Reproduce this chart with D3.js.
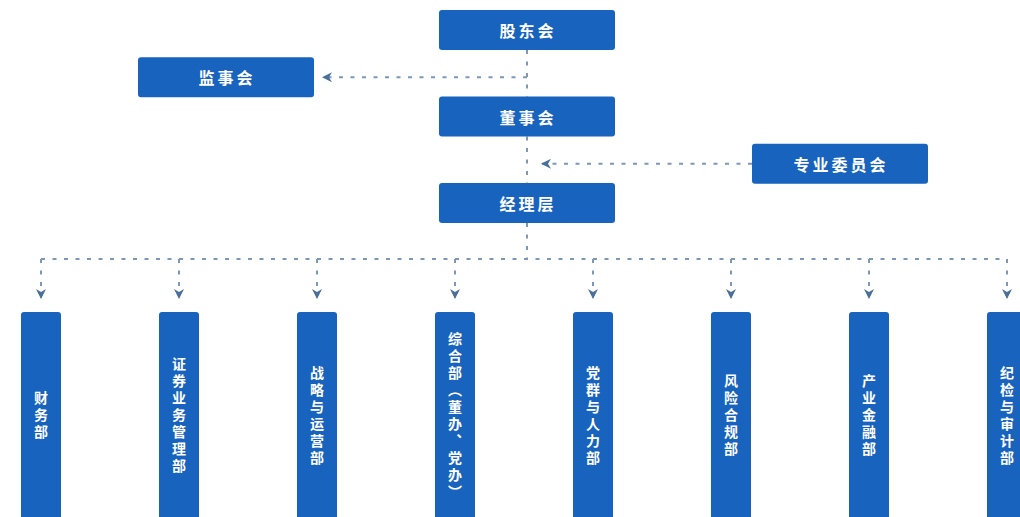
<!DOCTYPE html>
<html>
<head>
<meta charset="utf-8">
<script src="https://cdn.jsdelivr.net/npm/d3@7"></script>
<style>
  html, body { margin: 0; padding: 0; background: #fff; }
  svg { display: block; }
  text { font-family: "Noto Sans CJK SC", "Noto Sans", sans-serif; fill: #fff; font-weight: bold; }
</style>
</head>
<body>
<svg id="chart" width="1020" height="517"></svg>
<script>
// top governance chain (level, side): side -1 = left, 0 = trunk, 1 = right
const topNames = ['股东会', '监事会', '董事会', '专业委员会', '经理层'];
const topLevels = [0, 1, 2, 3, 4];
const topSides = [0, -1, 0, 1, 0];

// departments under 经理层
const depts = ['财务部', '证券业务管理部', '战略与运营部', '综合部（董办、党办）',
               '党群与人力部', '风险合规部', '产业金融部', '纪检与审计部'];

const blue = '#1763bd';
const dash = '#7d97b8';
const arrowCol = '#4a6f99';

const svg = d3.select('#chart');
const W = 1020, H = 517;

const boxW = 176, boxH = 40;
const deptW = 40, deptTop = 312;

const xSide = d3.scaleLinear().domain([-1, 0, 1]).range([226, 527, 840]);
const yLevel = d3.scaleLinear().domain([0, 4]).range([10, 183]);
const xDept = d3.scalePoint().domain(depts).range([41, 1007]);

const topData = topNames.map((n, i) => ({name: n, level: topLevels[i], side: topSides[i]}));
const trunkX = xSide(0);

const lines = svg.append('g')
    .attr('fill', 'none')
    .attr('stroke', dash)
    .attr('stroke-width', 2)
    .attr('stroke-dasharray', '4 7.5');

svg.append('defs').append('marker')
    .attr('id', 'arr')
    .attr('viewBox', '0 0 10 10')
    .attr('refX', 9).attr('refY', 5)
    .attr('markerWidth', 10).attr('markerHeight', 10)
    .attr('markerUnits', 'userSpaceOnUse')
    .attr('orient', 'auto')
    .append('path')
    .attr('d', 'M0,0 L10,5 L0,10 L3,5 Z')
    .attr('fill', arrowCol);

// trunk segments between main boxes
const trunk = topData.filter(d => d.side === 0);
for (let i = 0; i < trunk.length - 1; i++) {
  lines.append('line')
      .attr('x1', trunkX).attr('x2', trunkX)
      .attr('y1', yLevel(trunk[i].level) + boxH)
      .attr('y2', yLevel(trunk[i + 1].level));
}
const busY = yLevel(4) + boxH + 36;
lines.append('line')
    .attr('x1', trunkX).attr('x2', trunkX)
    .attr('y1', yLevel(4) + boxH).attr('y2', busY);

// side arrows
topData.filter(d => d.side !== 0).forEach(d => {
  const cy = yLevel(d.level) + boxH / 2 + 4;
  if (d.side < 0) {
    lines.append('line')
        .attr('x1', trunkX).attr('x2', xSide(d.side) + boxW / 2 + 9)
        .attr('y1', cy).attr('y2', cy)
        .attr('marker-end', 'url(#arr)');
  } else {
    lines.append('line')
        .attr('x1', xSide(d.side) - boxW / 2).attr('x2', trunkX + 15)
        .attr('y1', cy).attr('y2', cy)
        .attr('marker-end', 'url(#arr)');
  }
});

// department bus
lines.append('line')
    .attr('x1', xDept(depts[0])).attr('x2', xDept(depts[depts.length - 1]))
    .attr('y1', busY).attr('y2', busY);
lines.selectAll('.drop')
    .data(depts)
    .join('line')
    .attr('class', 'drop')
    .attr('x1', d => xDept(d)).attr('x2', d => xDept(d))
    .attr('y1', busY).attr('y2', deptTop - 14)
    .attr('marker-end', 'url(#arr)');

// top boxes
const tb = svg.append('g').selectAll('g')
    .data(topData)
    .join('g')
    .attr('transform', d => `translate(${xSide(d.side) - boxW / 2},${yLevel(d.level) + (d.side === 0 ? 0 : 4)})`);
tb.append('rect')
    .attr('width', boxW).attr('height', boxH)
    .attr('rx', 3)
    .attr('fill', blue);
tb.append('text')
    .attr('x', boxW / 2 + 1).attr('y', boxH / 2)
    .attr('text-anchor', 'middle')
    .attr('dominant-baseline', 'central')
    .attr('font-size', 16)
    .attr('letter-spacing', 3)
    .text(d => d.name);

// department boxes
const db = svg.append('g').selectAll('g')
    .data(depts)
    .join('g')
    .attr('transform', d => `translate(${xDept(d) - deptW / 2},${deptTop})`);
db.append('rect')
    .attr('width', deptW).attr('height', H - deptTop + 6)
    .attr('rx', 3)
    .attr('fill', blue);
db.append('text')
    .attr('x', deptW / 2).attr('y', (H - deptTop) / 2 + 2)
    .attr('text-anchor', 'middle')
    .attr('dominant-baseline', 'central')
    .style('writing-mode', 'vertical-rl')
    .attr('font-size', 14)
    .attr('letter-spacing', 3)
    .text(d => d);
</script>
</body>
</html>
